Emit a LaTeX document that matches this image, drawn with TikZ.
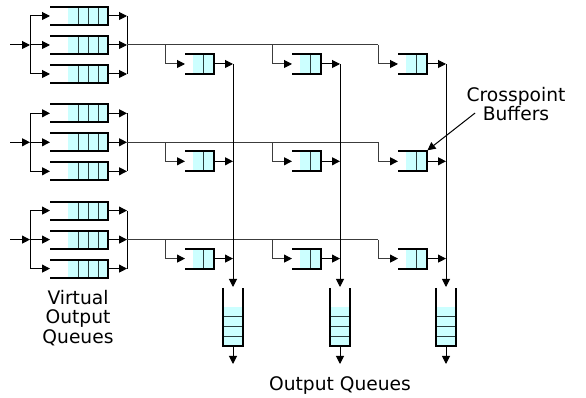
\documentclass[tikz,border=0pt]{standalone}
\usepackage{fontspec}
\setmainfont{DejaVu Sans}
\usetikzlibrary{arrows.meta}

\definecolor{cellfill}{RGB}{204,255,255}
\definecolor{busgray}{RGB}{60,60,60}

\tikzset{every picture/.style={line width=0.75pt}}
\tikzset{
	arr/.style={-{Triangle[length=6pt,width=6pt,color=black]}},
	bus/.style={draw=busgray},
	qborder/.style={line width=1.6pt},
	cellline/.style={line width=0.75pt,draw={rgb,255:red,40;green,60;blue,60}},
	lbl/.style={font=\fontsize{14}{14.6}\selectfont,align=center,inner sep=0pt},
	% pics keep only the shift, so y points up in them
	% virtual output queue, opening to the left
	pics/voq/.style={code={
		\fill[cellfill] (-11,-9) rectangle (29,9);
		\draw[cellline] (-1,-9) -- (-1,9) (9,-9) -- (9,9) (19,-9) -- (19,9);
		\draw[qborder] (-29,9) -- (29,9) -- (29,-9) -- (-29,-9);
		\coordinate (-in) at (-29,0);
		\coordinate (-out) at (29,0);
	}},
	% crosspoint buffer
	pics/xpb/.style={code={
		\fill[cellfill] (-6.5,-10) rectangle (14.5,10);
		\draw[cellline] (4,-10) -- (4,10);
		\draw[qborder] (-14.5,10) -- (14.5,10) -- (14.5,-10) -- (-14.5,-10);
		\coordinate (-in) at (-14.5,0);
		\coordinate (-out) at (14.5,0);
		\coordinate (-ne) at (15,11);
	}},
	% output queue, opening at the top
	pics/oq/.style={code={
		\fill[cellfill] (-10,10) rectangle (10,-29);
		\draw[cellline] (-10,0) -- (10,0) (-10,-10) -- (10,-10) (-10,-19.5) -- (10,-19.5);
		\draw[qborder] (-10,29) -- (-10,-29) -- (10,-29) -- (10,29);
		\coordinate (-in) at (0,30);
		\coordinate (-out) at (0,-29);
		\coordinate (-end) at (0,-47);
	}}
}

\begin{document}
\begin{tikzpicture}[x=0.75pt,y=0.75pt,yscale=-1,xscale=1]
	\useasboundingbox (0,0) rectangle (586,398);

	% columns of the crossbar
	\foreach \j/\tx in {1/165,2/272,3/378}{
		\coordinate (col\j) at (\tx+68,0);
	}

	% one row per input port
	\foreach \i/\ry in {1/45,2/142.3,3/239.6}{
		%Virtual output queues
		\pic (v\i1) at (79,\ry-29) {voq};
		\pic (v\i2) at (79,\ry) {voq};
		\pic (v\i3) at (79,\ry+29) {voq};
		\coordinate (in\i) at (10,\ry);
		\coordinate (fork\i) at (30,\ry);
		\coordinate (join\i) at (127,\ry);
		\draw[arr] (in\i) -- (fork\i);
		\draw (v\i1-in -| fork\i) -- (v\i3-in -| fork\i);
		\draw (v\i1-out -| join\i) -- (v\i3-out -| join\i);
		\foreach \k in {1,2,3}{
			\draw[arr] (v\i\k-in -| fork\i) -- (v\i\k-in);
			\draw[arr] (v\i\k-out) -- (v\i\k-out -| join\i);
		}
		%Crosspoint buffers
		\coordinate (tap\i3) at (378,\ry);
		\draw[bus] (join\i) -- (tap\i3);
		\foreach \j/\tx in {1/165,2/272,3/378}{
			\pic (x\i\j) at (\tx+34.5,\ry+19) {xpb};
			\coordinate (tap\i\j) at (\tx,\ry);
			\draw[arr,bus] (tap\i\j) |- (x\i\j-in);
			\draw[arr] (x\i\j-out) -- (x\i\j-out -| col\j);
		}
	}

	%Output queues
	\foreach \j/\tx in {1/165,2/272,3/378}{
		\pic (oq\j) at (\tx+68,317) {oq};
		\draw[arr] (x1\j-out -| col\j) -- (oq\j-in);
		\draw[arr] (oq\j-out) -- (oq\j-end);
	}

	% Text Node
	\node[lbl] (voqlabel) at (78,318) {Virtual\\Output\\Queues};
	% Text Node
	\node[lbl] (oqlabel) at (340,386) {Output Queues};
	% Text Node
	\node[lbl] (cpblabel) at (516,104) {Crosspoint\\Buffers};
	\draw[arr] ([shift={(9,9)}]cpblabel.west) -- (x23-ne);

\end{tikzpicture}
\end{document}
